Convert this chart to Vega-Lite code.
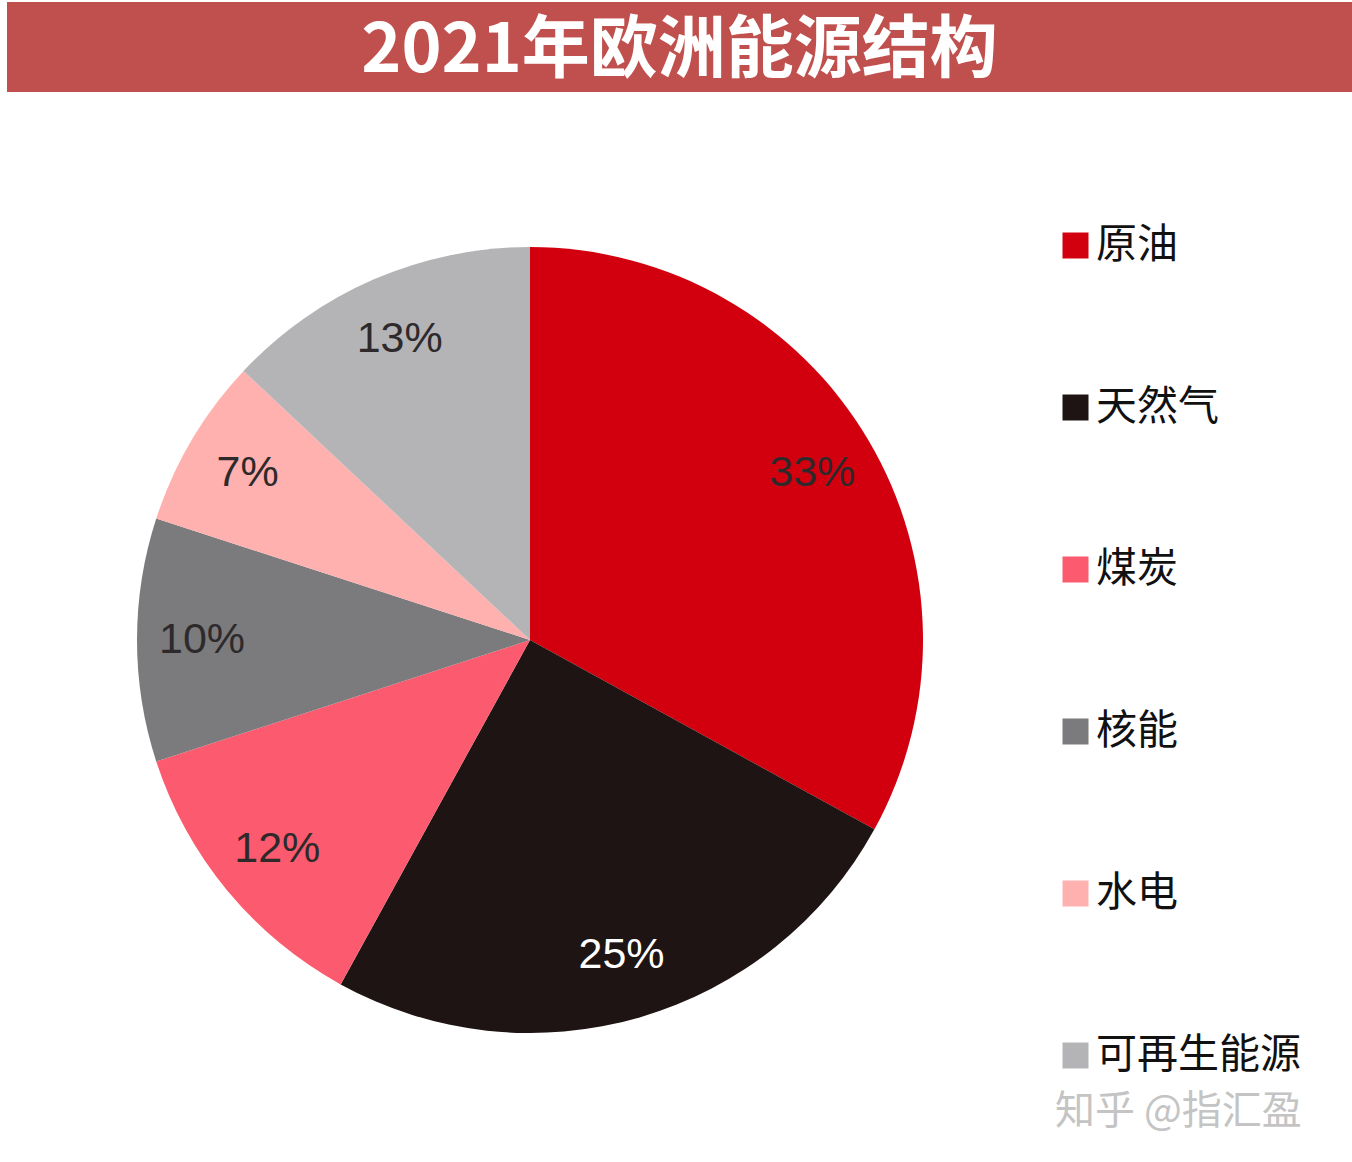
{
  "$schema": "https://vega.github.io/schema/vega-lite/v6.json",
  "padding": {"left": 7, "top": 2, "right": 0, "bottom": 30},
  "background": "white",
  "config": {"view": {"stroke": null}, "font": "Liberation Sans"},
  "spacing": 133,
  "datasets": {
    "energy": [
      {"source": "原油", "share": 33, "label": "33%", "idx": 1},
      {"source": "天然气", "share": 25, "label": "25%", "idx": 2},
      {"source": "煤炭", "share": 12, "label": "12%", "idx": 3},
      {"source": "核能", "share": 10, "label": "10%", "idx": 4},
      {"source": "水电", "share": 7, "label": "7%", "idx": 5},
      {"source": "可再生能源", "share": 13, "label": "13%", "idx": 6}
    ],
    "heading": [{"title": "2021年欧洲能源结构"}]
  },
  "vconcat": [
    {
      "width": 1345,
      "height": 90,
      "view": {"fill": "#C0504D", "stroke": null},
      "data": {"name": "heading"},
      "mark": {"type": "text", "font": "Noto Sans CJK SC", "fontSize": 68, "fontWeight": "bold", "color": "white", "baseline": "middle", "align": "center", "dy": 5},
      "encoding": {"text": {"field": "title"}}
    },
    {
      "width": 1046,
      "height": 786,
      "data": {"name": "energy"},
      "layer": [
        {
          "mark": {"type": "arc"},
          "encoding": {
            "theta": {"field": "share", "type": "quantitative", "stack": true},
            "order": {"field": "idx", "type": "quantitative"},
            "color": {
              "field": "source",
              "type": "nominal",
              "scale": {
                "domain": ["原油", "天然气", "煤炭", "核能", "水电", "可再生能源"],
                "range": ["#D2000F", "#1E1414", "#FC5A6E", "#7B7B7D", "#FFB1AF", "#B4B4B7"]
              },
              "legend": {
                "orient": "none",
                "legendX": 1048,
                "legendY": -22,
                "title": "知乎 @指汇盈",
                "titleOrient": "bottom",
                "titleAnchor": "start",
                "titleFontSize": 40,
                "titleColor": "#c4c4c4",
                "titleFont": "Noto Sans CJK SC",
                "titleFontWeight": "normal",
                "titlePadding": 16,
                "titleLimit": 500,
                "labelFont": "Noto Sans CJK SC",
                "labelFontSize": 41,
                "labelColor": "#111111",
                "labelOffset": 0,
                "labelLimit": 400,
                "symbolType": "square",
                "symbolSize": 676,
                "symbolStrokeWidth": 0,
                "rowPadding": 120
              }
            }
          }
        },
        {
          "mark": {"type": "text", "radius": 328, "fontSize": 43, "font": "Liberation Sans", "baseline": "middle", "align": "center"},
          "encoding": {
            "theta": {"field": "share", "type": "quantitative", "stack": true},
            "order": {"field": "idx", "type": "quantitative"},
            "text": {"field": "label"},
            "color": {
              "condition": {"test": "datum.source === '天然气'", "value": "#ffffff"},
              "value": "#2e2a2c"
            }
          }
        }
      ]
    }
  ],
  "resolve": {"scale": {"color": "independent"}, "legend": {"color": "independent"}}
}
